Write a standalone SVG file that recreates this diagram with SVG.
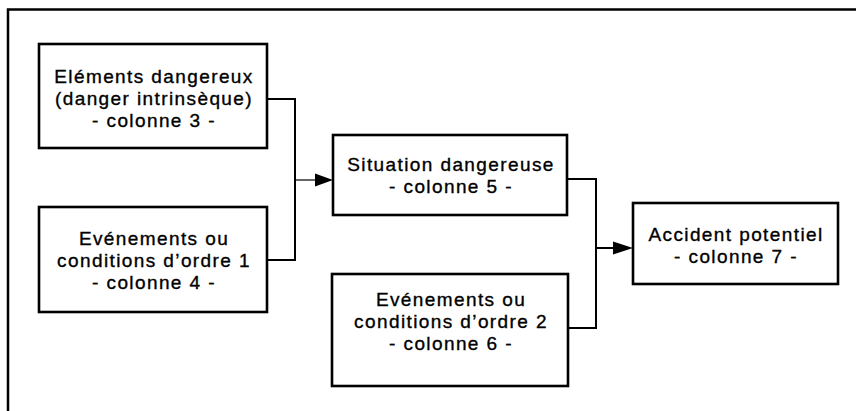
<svg xmlns="http://www.w3.org/2000/svg" width="856" height="411" viewBox="0 0 856 411">
  <style>
    .box { fill: #fff; stroke: #000; stroke-width: 2.6; }
    .frame { fill: none; stroke: #000; stroke-width: 2.5; }
    .wire { fill: none; stroke: #000; stroke-width: 2; }
    .lead { fill: none; stroke: #000; stroke-width: 1.2; }
    text { font-family: "Liberation Sans", Arial, sans-serif; font-size: 19px; letter-spacing: 1.4px; text-anchor: middle; fill: #000; stroke: #000; stroke-width: 0.35; }
  </style>

  <rect width="856" height="411" fill="#fff"/>

  <!-- page frame (top and left rules) -->
  <path class="frame" d="M8,411 V9.5 H856"/>

  <g id="connectors">
    <path class="wire" d="M267,99 H295 V260 H267"/>
    <path class="lead" d="M295,180 H316"/>
    <path d="M315,173.5 L333,180 L315,186.5 Z" fill="#000"/>
    <path class="wire" d="M567,179 H596 V328 H568"/>
    <path class="wire" d="M596,248 H614"/>
    <path d="M613,241.5 L633,248 L613,254.5 Z" fill="#000"/>
  </g>

  <g id="node-elements">
    <rect class="box" x="39" y="44" width="228" height="104"/>
    <text x="154" y="83">Eléments dangereux</text>
    <text x="154" y="105">(danger intrinsèque)</text>
    <text x="154" y="127">- colonne 3 -</text>
  </g>

  <g id="node-evenements-1">
    <rect class="box" x="39" y="207" width="228" height="105"/>
    <text x="154" y="245">Evénements ou</text>
    <text x="154" y="267">conditions d’ordre 1</text>
    <text x="154" y="289">- colonne 4 -</text>
  </g>

  <g id="node-situation">
    <rect class="box" x="333" y="135" width="234" height="80"/>
    <text x="451" y="171">Situation dangereuse</text>
    <text x="451" y="193">- colonne 5 -</text>
  </g>

  <g id="node-evenements-2">
    <rect class="box" x="332" y="274" width="236" height="112"/>
    <text x="451" y="306">Evénements ou</text>
    <text x="451" y="328">conditions d’ordre 2</text>
    <text x="451" y="350">- colonne 6 -</text>
  </g>

  <g id="node-accident">
    <rect class="box" x="633" y="203" width="205" height="81"/>
    <text x="736" y="241">Accident potentiel</text>
    <text x="736" y="263">- colonne 7 -</text>
  </g>
</svg>
